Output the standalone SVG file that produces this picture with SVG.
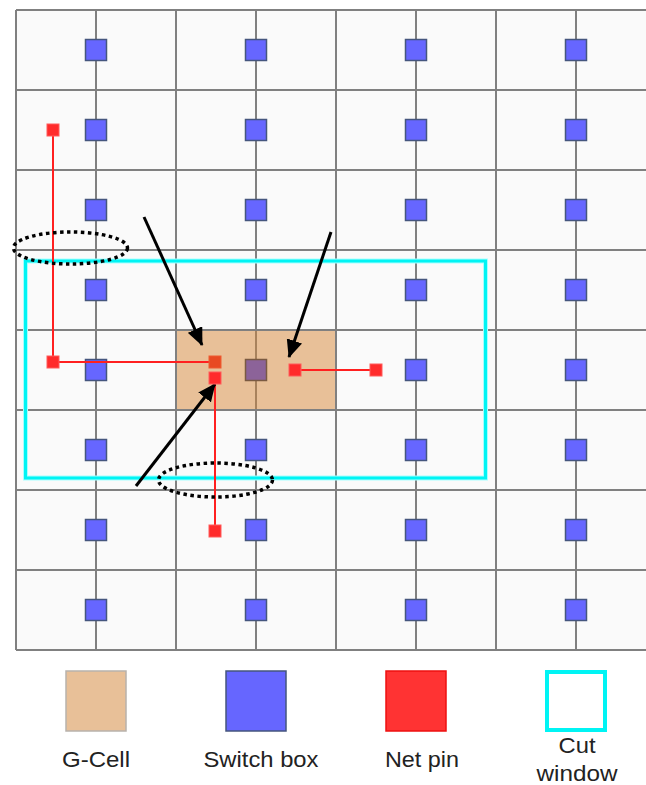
<svg xmlns="http://www.w3.org/2000/svg" width="646" height="785" viewBox="0 0 646 785">
<defs>
<style>
.grid{stroke:#808080;stroke-width:2;fill:none}
.sb{fill:#6666ff;stroke:#45567e;stroke-width:1.5}
.pin{fill:#ff2b2b;stroke:#ff5a5a;stroke-width:1}
.wire{stroke:#ff2020;stroke-width:2;fill:none}
.ell{fill:none;stroke:#000;stroke-width:3.5;stroke-dasharray:3.5 3.5}
.arr{stroke:#000;stroke-width:3;fill:none;marker-end:url(#ah)}
.lbl{font-family:"Liberation Sans",Arial,sans-serif;font-size:22px;fill:#222;text-anchor:middle}
</style>
<marker id="ah" markerUnits="userSpaceOnUse" markerWidth="20" markerHeight="16" refX="17" refY="8" orient="auto">
<path d="M0,0 L18,8 L0,16 Z" fill="#000"/>
</marker>
<rect id="sbox" x="-10.5" y="-10.5" width="21" height="21"/>
<rect id="pinr" x="-6" y="-6" width="12" height="12"/>
</defs>
<rect width="646" height="785" fill="#ffffff"/>
<g id="grid">
<rect x="16" y="10" width="640" height="640" fill="#fafafa"/>
<path class="grid" d="M16,10H656M16,90H656M16,170H656M16,250H656M16,330H656M16,410H656M16,490H656M16,570H656M16,650H656"/>
<path class="grid" d="M16,10V650M176,10V650M336,10V650M496,10V650M96,10V650M256,10V650M416,10V650M576,10V650"/>
</g>
<g id="gcell-highlight">
<rect x="177" y="331" width="158" height="78" fill="#e8c098"/>
<path d="M256,331V409" stroke="#a8825c" stroke-width="2"/>
</g>
<g id="switch-boxes">
<use href="#sbox" class="sb" x="96" y="50"/><use href="#sbox" class="sb" x="256" y="50"/><use href="#sbox" class="sb" x="416" y="50"/><use href="#sbox" class="sb" x="576" y="50"/>
<use href="#sbox" class="sb" x="96" y="130"/><use href="#sbox" class="sb" x="256" y="130"/><use href="#sbox" class="sb" x="416" y="130"/><use href="#sbox" class="sb" x="576" y="130"/>
<use href="#sbox" class="sb" x="96" y="210"/><use href="#sbox" class="sb" x="256" y="210"/><use href="#sbox" class="sb" x="416" y="210"/><use href="#sbox" class="sb" x="576" y="210"/>
<use href="#sbox" class="sb" x="96" y="290"/><use href="#sbox" class="sb" x="256" y="290"/><use href="#sbox" class="sb" x="416" y="290"/><use href="#sbox" class="sb" x="576" y="290"/>
<use href="#sbox" class="sb" x="96" y="370"/><use href="#sbox" x="256" y="370" fill="#8c6399" stroke="#7a5a42" stroke-width="1.5"/><use href="#sbox" class="sb" x="416" y="370"/><use href="#sbox" class="sb" x="576" y="370"/>
<use href="#sbox" class="sb" x="96" y="450"/><use href="#sbox" class="sb" x="256" y="450"/><use href="#sbox" class="sb" x="416" y="450"/><use href="#sbox" class="sb" x="576" y="450"/>
<use href="#sbox" class="sb" x="96" y="530"/><use href="#sbox" class="sb" x="256" y="530"/><use href="#sbox" class="sb" x="416" y="530"/><use href="#sbox" class="sb" x="576" y="530"/>
<use href="#sbox" class="sb" x="96" y="610"/><use href="#sbox" class="sb" x="256" y="610"/><use href="#sbox" class="sb" x="416" y="610"/><use href="#sbox" class="sb" x="576" y="610"/>
</g>
<g id="cut-window">
<rect x="25.5" y="261" width="460" height="217" fill="none" stroke="#a8ffff" stroke-width="5"/>
<rect x="25.5" y="261" width="460" height="217" fill="none" stroke="#00f4f4" stroke-width="3"/>
</g>
<g id="connectors">
<path class="wire" d="M53,130V362H215"/>
<path class="wire" d="M215,378V531"/>
<path class="wire" d="M295,370H376"/>
<path class="arr" d="M144,217L202,345"/>
<path class="arr" d="M331,232L289,357"/>
<path class="arr" d="M136,486L215,384"/>
</g>
<g id="net-pins">
<use href="#pinr" class="pin" x="53" y="130"/>
<use href="#pinr" class="pin" x="53" y="362"/>
<use href="#pinr" x="215" y="362" fill="#e84a22" stroke="#ee5a30" stroke-width="1"/>
<use href="#pinr" class="pin" x="215" y="378"/>
<use href="#pinr" class="pin" x="215" y="531"/>
<use href="#pinr" class="pin" x="295" y="370"/>
<use href="#pinr" class="pin" x="376" y="370"/>
</g>
<g id="ellipses">
<ellipse class="ell" cx="70.5" cy="248" rx="57" ry="16"/>
<ellipse class="ell" cx="215.5" cy="480" rx="57" ry="17"/>
</g>
<g id="legend">
<g id="legend-gcell"><rect x="66" y="671" width="60" height="60" fill="#e8c098" stroke="#b8b2ac" stroke-width="1.5"/><text class="lbl" x="96" y="767" textLength="68" lengthAdjust="spacingAndGlyphs">G-Cell</text></g>
<g id="legend-switch"><rect x="226" y="671" width="60" height="60" fill="#6666ff" stroke="#45567e" stroke-width="1.5"/><text class="lbl" x="261" y="767" textLength="115" lengthAdjust="spacingAndGlyphs">Switch box</text></g>
<g id="legend-pin"><rect x="386" y="671" width="60" height="60" fill="#ff3333" stroke="#ee1111" stroke-width="1.5"/><text class="lbl" x="422" y="767" textLength="74" lengthAdjust="spacingAndGlyphs">Net pin</text></g>
<g id="legend-cut"><rect x="547" y="672" width="58" height="58" fill="#ffffff" stroke="#00f4f4" stroke-width="4"/><text class="lbl" x="577" y="753" textLength="37" lengthAdjust="spacingAndGlyphs">Cut</text><text class="lbl" x="577" y="781" textLength="81" lengthAdjust="spacingAndGlyphs">window</text></g>
</g>
</svg>
